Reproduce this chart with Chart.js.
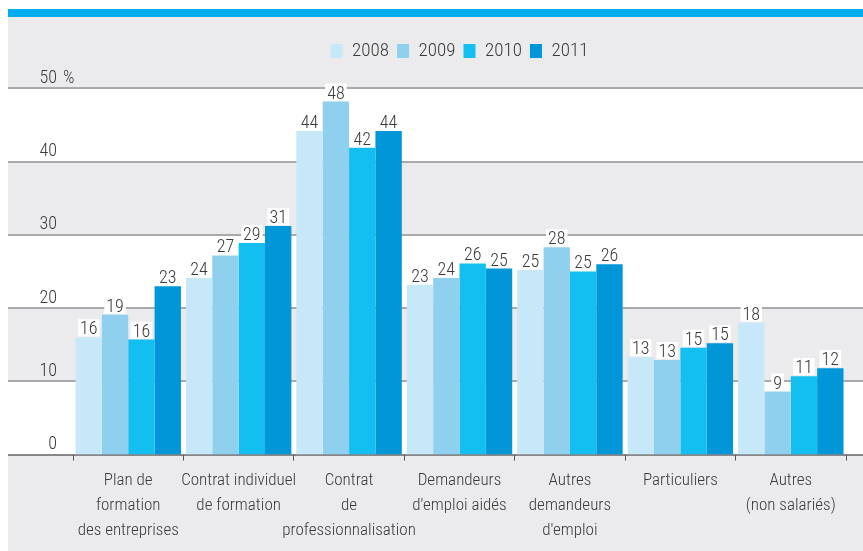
<!DOCTYPE html>
<html>
<head>
<meta charset="utf-8">
<script src="https://cdn.jsdelivr.net/npm/chart.js@4/dist/chart.umd.min.js"></script>
<style>
  html, body { margin: 0; padding: 0; background: #fff; }
  #wrap { position: absolute; left: 0; top: 0; width: 863px; height: 551px; }
</style>
</head>
<body>
<div id="wrap"><canvas id="chart"></canvas></div>
<script>
// data (percent)
const categories = [
  ["Plan de", "formation", "des entreprises"],
  ["Contrat individuel", "de formation"],
  ["Contrat", "de", "professionnalisation"],
  ["Demandeurs", "d'emploi aidés"],
  ["Autres", "demandeurs", "d'emploi"],
  ["Particuliers"],
  ["Autres", "(non salariés)"]
];
const years = ["2008", "2009", "2010", "2011"];
const values2008 = [16.0, 24.1, 44.2, 23.2, 25.2, 13.3, 18.0];
const values2009 = [19.1, 27.2, 48.2, 24.1, 28.3, 12.9, 8.6];
const values2010 = [15.7, 28.9, 41.9, 26.1, 25.0, 14.6, 10.7];
const values2011 = [23.0, 31.2, 44.2, 25.4, 26.0, 15.2, 11.8];
const yTicks = [0, 10, 20, 30, 40, 50];

const colors = ["#c6e8f8", "#8fd0ee", "#13bef0", "#0096d7"];
const FONT = "'Roboto Condensed', 'DejaVu Sans Condensed', sans-serif";
const TEXT = "#3a3a3a";

const PANEL_L = 8, PANEL_R = 863;

// background panel, white/grey bands and grid lines
const backdrop = {
  id: "backdrop",
  beforeDraw(chart) {
    const c = chart.ctx, ys = chart.scales.y;
    c.save();
    c.fillStyle = "#ebebee";
    c.fillRect(PANEL_L, 17, PANEL_R - PANEL_L, chart.height - 17);
    c.fillStyle = "#00aeef";
    c.fillRect(PANEL_L, 9, PANEL_R - PANEL_L, 8);
    // white bands 0-10, 20-30, 40-50
    c.fillStyle = "#ffffff";
    for (let i = 0; i < yTicks.length - 1; i += 2) {
      const t = ys.getPixelForValue(yTicks[i + 1]);
      const b = ys.getPixelForValue(yTicks[i]);
      c.fillRect(PANEL_L, t, PANEL_R - PANEL_L, b - t);
    }
    c.lineWidth = 2;
    yTicks.forEach(v => {
      const py = Math.round(ys.getPixelForValue(v));
      c.strokeStyle = v === 0 ? "#87878a" : "#aaaaad";
      c.beginPath();
      c.moveTo(PANEL_L, py);
      c.lineTo(PANEL_R, py);
      c.stroke();
    });
    c.restore();
  }
};

// value labels on a white box above each bar, plus the "%" after 50
const barLabels = {
  id: "barLabels",
  afterDatasetsDraw(chart) {
    const c = chart.ctx;
    c.save();
    c.font = "300 18px " + FONT;
    c.textAlign = "center";
    c.textBaseline = "alphabetic";
    chart.data.datasets.forEach((ds, di) => {
      chart.getDatasetMeta(di).data.forEach((bar, i) => {
        const txt = String(Math.round(ds.data[i]));
        const w = c.measureText(txt).width;
        c.fillStyle = "#fff";
        c.fillRect(bar.x - w / 2 - 2, bar.y - 18, w + 4, 17);
        c.fillStyle = TEXT;
        c.fillText(txt, bar.x, bar.y - 3);
      });
    });
    const ys = chart.scales.y;
    c.textAlign = "left";
    c.textBaseline = "middle";
    c.fillText("%", ys.right - 16 + 6, ys.getPixelForValue(50) - 10);
    c.restore();
  }
};

const datasets = [values2008, values2009, values2010, values2011].map((vals, i) => ({
  label: years[i],
  data: vals,
  backgroundColor: colors[i],
  borderWidth: 0,
  categoryPercentage: 0.955,
  barPercentage: 1
}));

new Chart(document.getElementById("chart"), {
  type: "bar",
  data: { labels: categories, datasets: datasets },
  plugins: [backdrop, barLabels],
  options: {
    responsive: true,
    maintainAspectRatio: false,
    animation: false,
    layout: { padding: { left: 0, right: 17, top: 33.5, bottom: 0.5 } },
    plugins: {
      tooltip: { enabled: false },
      legend: {
        position: "top",
        fullSize: false,
        labels: {
          boxWidth: 12,
          boxHeight: 14,
          padding: 8,
          color: TEXT,
          font: { family: FONT, size: 19, weight: "300" }
        }
      }
    },
    scales: {
      x: {
        grid: { display: true, drawOnChartArea: false, drawTicks: true, tickLength: 6, color: "#555", offset: true },
        border: { display: false },
        ticks: {
          color: TEXT,
          padding: 7.5,
          maxRotation: 0,
          autoSkip: false,
          font: { family: FONT, size: 17, weight: "300", lineHeight: 1.47 }
        }
      },
      y: {
        min: 0,
        max: 52.45,
        grid: { display: false, drawTicks: false },
        border: { display: false },
        afterFit(scale) { scale.width = 73; },
        afterBuildTicks(scale) { scale.ticks = yTicks.map(v => ({ value: v })); },
        ticks: {
          color: TEXT,
          padding: 16,
          labelOffset: -10,
          font: { family: FONT, size: 18, weight: "300" }
        }
      }
    }
  }
});
</script>
</body>
</html>
